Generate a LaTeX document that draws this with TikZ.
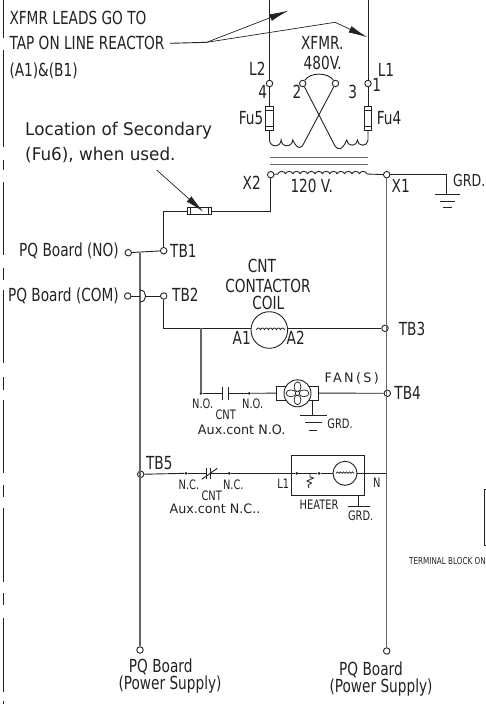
\documentclass[tikz,border=0pt]{standalone}
\usepackage{fontspec}
\setmainfont{DejaVu Sans}
\newfontfamily\lblfont[FakeStretch=0.76]{DejaVu Sans}
\newfontfamily\notefont[FakeStretch=0.96]{DejaVu Sans}
\newfontfamily\widefont[FakeStretch=0.98]{DejaVu Sans}
\newfontfamily\fanfont[FakeStretch=0.98,LetterSpace=18]{DejaVu Sans}
\usetikzlibrary{arrows.meta}
\definecolor{wire}{HTML}{222222}
\definecolor{bus}{HTML}{666666}
\tikzset{
    termnode/.style={circle, draw=wire, fill=white, line width=0.9pt, inner sep=0pt, minimum size=6.5pt},
    dotnode/.style={circle, fill=wire, inner sep=0pt, minimum size=3pt},
    lbl/.style={font=\lblfont\fontsize{18}{18}\selectfont, text=wire, inner sep=0pt},
    note/.style={font=\notefont\fontsize{17.5}{17.5}\selectfont, text=wire, inner sep=0pt, anchor=west},
    tiny lbl/.style={font=\lblfont\fontsize{13}{13}\selectfont, text=wire, inner sep=0pt},
    wide lbl/.style={font=\widefont\fontsize{13}{13}\selectfont, text=wire, inner sep=0pt},
    wireline/.style={draw=wire, line width=0.9pt},
    busline/.style={draw=bus, line width=1.3pt},
    pointer/.style={draw=wire, line width=0.7pt, -{Latex[length=19pt, width=7pt]}},
    fusebox/.style={draw=wire, fill=white, line width=0.8pt, inner sep=0pt},
}
\begin{document}
\begin{tikzpicture}[x=1pt, y=-1pt]
    \useasboundingbox (0,0) rectangle (486,704);

    % margin
    \foreach \from/\to in {0/38, 50/147, 160/170, 182/255, 268/280, 290/363, 377/390, 400/473, 485/497, 508/582, 593/605, 618/692, 701/704}
        \draw[wire, line width=1pt] (3,\from) -- (3,\to);

    % terminals
    \node[termnode] (L2) at (269.5,83.5) {};
    \node[termnode] (L1) at (368,83.5) {};
    \node[termnode] (T2) at (302.7,83.5) {};
    \node[termnode] (T3) at (335.5,83.5) {};
    \node[termnode] (X2) at (270.7,174.7) {};
    \node[termnode] (X1) at (386.7,174.7) {};
    \node[termnode] (TB1) at (163.7,250.7) {};
    \node[termnode] (TB2) at (163.7,296) {};
    \node[termnode] (TB3) at (385,328.3) {};
    \node[termnode] (TB4) at (387.3,393.3) {};
    \node[termnode] (TB5) at (140.7,474.3) {};
    \node[termnode] (NO) at (128.3,252.7) {};
    \node[termnode] (COM) at (127.7,296) {};
    \node[termnode] (PSA) at (140,650) {};
    \node[termnode] (PSB) at (386.7,651) {};

    % free ends
    \coordinate (topL2) at (269.5,0);
    \coordinate (topL1) at (368,0);
    \coordinate (leadA) at (170,43.3);
    \coordinate (leadB) at (206.7,42.3);
    \coordinate (leadC) at (335,22.3);
    \coordinate (tipA) at (288.3,10.7);
    \coordinate (tipB) at (367.3,37.3);
    \coordinate (noteA) at (156.7,170);
    \coordinate (tipC) at (203.3,211.7);

    % primary
    \node[fusebox, minimum width=7.6pt, minimum height=23.5pt] (Fu5) at (269.5,118.3) {};
    \node[fusebox, minimum width=7.6pt, minimum height=23.5pt] (Fu4) at (368,118.3) {};
    \draw[wireline] (topL2) -- (L2);
    \draw[wireline] (topL1) -- (L1);
    \draw[wireline] (L2) -- (Fu5);
    \draw[wireline] (L1) -- (Fu4);
    \draw[wireline] (Fu5.north west) ++(0,4.2) -- ++(7.6,0);
    \draw[wireline] (Fu5.south west) ++(0,-4.2) -- ++(7.6,0);
    \draw[wireline] (Fu4.north west) ++(0,4.2) -- ++(7.6,0);
    \draw[wireline] (Fu4.south west) ++(0,-4.2) -- ++(7.6,0);
    \draw[wireline] (Fu5) -- ++(0,21.7) arc[start angle=180, end angle=0, radius=5.8] arc[start angle=180, end angle=0, radius=5.8]
        .. controls (298,151) and (302,148) .. (304,143) -- (T3);
    \draw[wireline] (Fu4) -- ++(0,21.7) arc[start angle=0, end angle=180, radius=5.3] arc[start angle=0, end angle=180, radius=5.3]
        .. controls (342,151) and (338,150) .. (335,146) -- (T2);
    \draw[wireline] (T2) .. controls (310,72) and (328,72) .. (T3);

    % core
    \draw[bus, line width=1pt] (269.5,157.7) -- (368,157.7);
    \draw[bus, line width=1pt] (269.5,164.3) -- (368,164.3);

    % secondary
    \draw[wireline] (X2) -- (278,174);
    \foreach \k in {0,...,11}
        \draw[wireline] (278+7.4*\k,174) arc[start angle=180, end angle=360, x radius=3.7, y radius=2.6];
    \draw[wireline] (366.8,174) -- (X1);
    \draw[wireline] (X1) -- (446.7,174.7) -- (446.7,194);
    \draw[wireline] (435,194) -- (460,194);
    \draw[wireline] (440,201) -- (455,201);
    \draw[wireline] (443,207) -- (452,207);

    % secondary fuse
    \node[fusebox, minimum width=24.4pt, minimum height=7.6pt] (Fu6) at (199.5,211) {};
    \draw[wireline] (Fu6.north west) ++(4,0) -- ++(0,7.6);
    \draw[wireline] (Fu6.north east) ++(-4,0) -- ++(0,7.6);
    \draw[wireline] (X2) |- (Fu6);
    \draw[wireline] (Fu6) -| (TB1);
    \draw[wireline] (NO) -- (TB1);

    % pointers
    \draw[wireline] (leadA) -- (leadB);
    \draw[pointer] (leadB) -- (tipA);
    \draw[pointer] (leadB) -- (leadC) -- (tipB);
    \draw[pointer] (noteA) -- (tipC);

    % buses
    \draw[busline] (140,252.7) -- (PSA);
    \draw[busline] (X1) -- (PSB);
    \draw[wireline] (COM) -- (140,296);
    \draw[wireline] (145.7,296) -- (TB2);
    \draw[wireline] (140,290) .. controls (147.5,290) and (147.5,302) .. (140,302);

    % coil
    \node[circle, draw=wire, line width=0.9pt, minimum size=36.6pt, inner sep=0pt] (CNT) at (269.3,330) {};
    \draw[wireline] (TB2) |- (CNT.west |- 0,328.3);
    \draw[wireline] (CNT.east |- 0,328.3) -- (TB3);
    \foreach \k in {0,...,6}
        \draw[wire, line width=0.8pt] (256.5+4*\k,330) arc[start angle=180, end angle=360, radius=2];

    % fan branch
    \node[dotnode] (DA) at (201,393.3) {};
    \node[dotnode] (DB) at (249.3,393.3) {};
    \draw[busline] (201,328.3) -- (DA);
    \draw[wireline] (DA) -- (222.7,393.3);
    \draw[wireline] (228,393.3) -- (DB);
    \draw[wireline] (222.7,387) -- (222.7,399.5);
    \draw[wireline] (228,387) -- (228,399.5);
    \node[draw=wire, line width=0.9pt, minimum width=41.6pt, minimum height=14pt, inner sep=0pt] (FANBOX) at (297.5,393) {};
    \node[circle, draw=wire, fill=white, line width=0.9pt, minimum size=27pt, inner sep=0pt] (FAN) at (297.5,393.3) {};
    \foreach \a in {0,90,180,270}
        \draw[wire, line width=0.7pt, rotate around={\a:(297.5,393.3)}] (304,393.3) ellipse (5 and 3.4);
    \draw[wire, line width=0.7pt, fill=white] (297.5,393.3) circle (2.2);
    \draw[wireline] (DB) -- (FANBOX);
    \draw[wireline] (FANBOX) -- (TB4);
    \draw[wireline] (312.7,400) -- (312.7,415.7);
    \draw[wireline] (300,415.7) -- (326.7,415.7);
    \draw[wireline] (305,422.7) -- (321.7,422.7);
    \draw[wireline] (308.5,430) -- (317,430);

    % heater branch
    \node[dotnode] (DC) at (186,473.3) {};
    \node[dotnode] (DD) at (229.3,473.3) {};
    \draw[wireline] (TB5) -- (DC);
    \draw[wireline] (DC) -- (206,473.3);
    \draw[wireline] (210,473.3) -- (DD);
    \draw[wireline] (206,468) -- (206,478.5);
    \draw[wireline] (210,468) -- (210,478.5);
    \draw[wireline] (201.7,479.3) -- (217.3,468.3);
    \node[draw=wire, line width=0.9pt, minimum width=72.6pt, minimum height=40pt, inner sep=0pt] (HEATBOX) at (328,475) {};
    \node[dotnode] (DE) at (296.7,473.3) {};
    \node[dotnode] (DF) at (319,473.3) {};
    \node[circle, draw=wire, line width=0.9pt, minimum size=24pt, inner sep=0pt] (HEAT) at (345,473.3) {};
    \draw[wireline] (DD) -- (DE);
    \draw[wireline] (DE) -- (DF);
    \draw[wireline] (DF) -- (HEAT);
    \draw[wireline] (HEAT) -- (385.7,473.3);
    \draw[wire, line width=0.8pt] (310,473.3) -- (310,477) -- (313.5,478) -- (307,481) -- (311.5,483) -- (308,485) -- (309,488);
    \foreach \k in {0,...,5}
        \draw[wire, line width=0.7pt] (336+3*\k,473.3) arc[start angle=180, end angle=360, radius=1.5];
    \draw[wireline] (358.3,495) -- (358.3,506.7);
    \draw[wireline] (348,506.7) -- (370,506.7);

    % terminal block fragment
    \draw[wireline] (486,489) -- (484,489) -- (484,545) -- (486,545);

    % text
    \node[lbl, anchor=west] at (9.3,18) {XFMR LEADS GO TO};
    \node[lbl, anchor=west] at (9.3,43) {TAP ON LINE REACTOR};
    \node[lbl, anchor=west] at (9.3,71) {(A1)\&(B1)};
    \node[note] at (25,130.7) {Location of Secondary};
    \node[note] at (25,155) {(Fu6), when used.};
    \node[lbl, anchor=east] at (119,250.7) {PQ Board (NO)};
    \node[lbl, anchor=east] at (119,296) {PQ Board (COM)};
    \node[lbl, anchor=west] at (170,250.5) {TB1};
    \node[lbl, anchor=west] at (172,295) {TB2};
    \node[lbl] at (322.3,43.3) {XFMR.};
    \node[lbl] at (322.7,63.3) {480V.};
    \node[lbl] at (257.3,69.3) {L2};
    \node[lbl] at (386,70) {L1};
    \node[lbl] at (262.7,92) {4};
    \node[lbl] at (297,92) {2};
    \node[lbl] at (352.7,92) {3};
    \node[lbl] at (376.7,85) {1};
    \node[lbl] at (251,118) {Fu5};
    \node[lbl] at (389,118) {Fu4};
    \node[lbl] at (251.7,183) {X2};
    \node[lbl] at (311.7,186) {120 V.};
    \node[lbl] at (400.7,186) {X1};
    \node[lbl, font=\lblfont\fontsize{16.5}{16.5}\selectfont, anchor=west] at (453,180) {GRD.};
    \node[lbl] at (262,266) {CNT};
    \node[lbl] at (268,286) {CONTACTOR};
    \node[lbl] at (268.3,303) {COIL};
    \node[lbl] at (241.7,338) {A1};
    \node[lbl] at (295.7,338) {A2};
    \node[lbl] at (412,329) {TB3};
    \node[lbl] at (407.7,392.7) {TB4};
    \node[lbl] at (159.3,463.3) {TB5};
    \node[tiny lbl] at (202.7,404) {N.O.};
    \node[tiny lbl] at (252.7,404) {N.O.};
    \node[tiny lbl] at (225.7,415) {CNT};
    \node[wide lbl] at (241.7,430) {Aux.cont N.O.};
    \node[font=\fanfont\fontsize{13}{13}\selectfont, text=wire, inner sep=0pt] at (351.7,378) {FAN(S)};
    \node[tiny lbl] at (340,424) {GRD.};
    \node[tiny lbl] at (189,485) {N.C.};
    \node[tiny lbl] at (233.3,485) {N.C.};
    \node[tiny lbl] at (211.7,496) {CNT};
    \node[wide lbl] at (215,509) {Aux.cont N.C..};
    \node[tiny lbl] at (283.3,483.3) {L1};
    \node[tiny lbl] at (376.7,483) {N};
    \node[tiny lbl] at (319,505) {HEATER};
    \node[tiny lbl] at (360.7,516) {GRD.};
    \node[font=\lblfont\fontsize{9.5}{9.5}\selectfont, text=wire, inner sep=0pt, anchor=east] at (486,560.7) {TERMINAL BLOCK ON};
    \node[lbl] at (160.7,666.7) {PQ Board};
    \node[lbl] at (170,685) {(Power Supply)};
    \node[lbl] at (371,670) {PQ Board};
    \node[lbl] at (381,688) {(Power Supply)};
\end{tikzpicture}
\end{document}
